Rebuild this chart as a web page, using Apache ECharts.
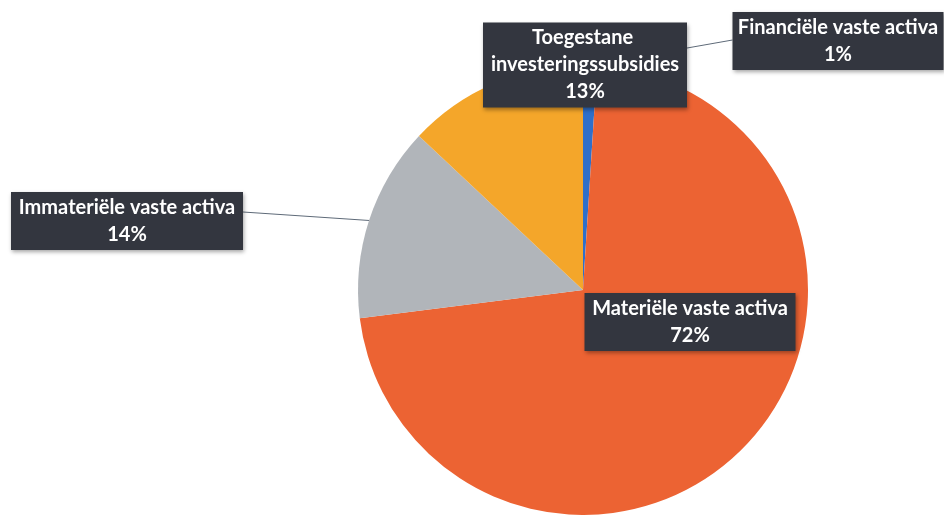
<!DOCTYPE html>
<html>
<head>
<meta charset="utf-8">
<script src="https://cdn.jsdelivr.net/npm/echarts@6/dist/echarts.min.js"></script>
<style>
  html, body { margin: 0; padding: 0; background: #fff; }
  #chart { width: 944px; height: 515px; }
</style>
</head>
<body>
<div id="chart"></div>
<script>
// categorieen en aandelen (in %), met de klok mee vanaf boven
const categories = [
    'Financiële vaste activa',
    'Materiële vaste activa',
    'Immateriële vaste activa',
    'Toegestane investeringssubsidies'
];
const values = [1, 72, 14, 13];
const colors = ['#2f6fc9', '#ec6333', '#b1b5ba', '#f4a62a'];

// plaats van de labelvakken (midden), breedte en hoogte van de lijn, per categorie
const labelPos = [[838, 41], [690, 322], [127, 221], [585, 65]];
const labelWidth = [199, 199, 220, 192];
const lineOffset = [-1, 0, -9, 0];
const showLine = [true, false, true, false];

const chart = echarts.init(document.getElementById('chart'));

const option = {
    animation: false,
    series: [{
        type: 'pie',
        center: [583, 290],
        radius: 225,
        startAngle: 90,
        clockwise: true,
        percentPrecision: 0,
        label: {
            show: true,
            position: 'outside',
            formatter: '{b}\n{d}%',
            color: '#fff',
            fontFamily: 'Lato',
            fontWeight: 'bold',
            fontSize: 20,
            lineHeight: 27,
            align: 'center',
            backgroundColor: '#33363f',
            padding: [2, 6],
            shadowColor: 'rgba(0,0,0,0.35)',
            shadowBlur: 4,
            shadowOffsetX: 1,
            shadowOffsetY: 2
        },
        labelLine: {
            show: true,
            lineStyle: { color: '#5e6a78', width: 1 }
        },
        labelLayout: function (params) {
            const i = params.dataIndex;
            const [x, y] = labelPos[i];
            const res = { x: x, y: y, align: 'center', verticalAlign: 'middle' };
            if (showLine[i] && params.labelLinePoints) {
                const p0 = params.labelLinePoints[0];
                const half = params.labelRect.width / 2;
                const end = [x < p0[0] ? x + half : x - half, y + lineOffset[i]];
                res.labelLinePoints = [p0, [(p0[0] + end[0]) / 2, (p0[1] + end[1]) / 2], end];
            }
            return res;
        },
        data: categories.map((name, i) => ({
            name: name,
            value: values[i],
            itemStyle: { color: colors[i] },
            label: { width: labelWidth[i], overflow: i === 3 ? 'break' : 'none' },
            labelLine: { show: showLine[i] }
        }))
    }]
};
chart.setOption(option);
</script>
</body>
</html>
